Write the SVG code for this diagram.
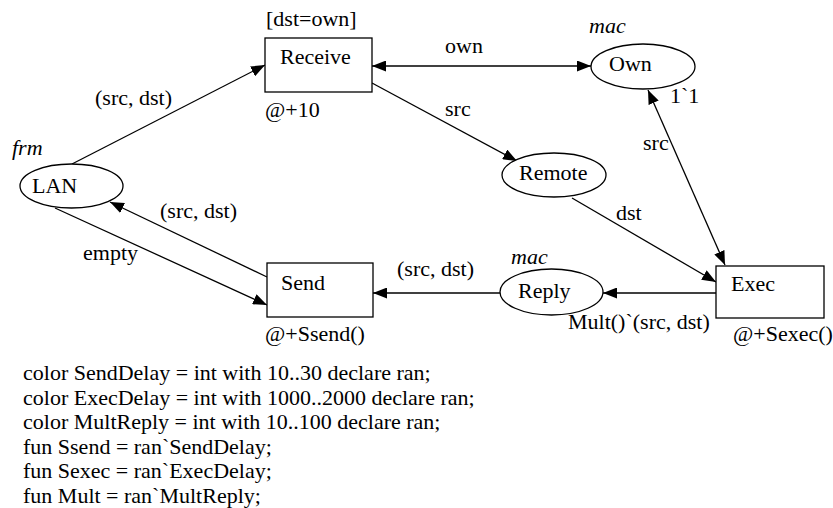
<svg xmlns="http://www.w3.org/2000/svg" width="833" height="508" viewBox="0 0 833 508">
<style>
text{font-family:"Liberation Serif","Times New Roman",serif;font-size:22px;fill:#000}
.it{font-style:italic}
.shape{fill:#fff;stroke:#000;stroke-width:1.3}
.arc{fill:none;stroke:#000;stroke-width:1.3}
</style>
<defs>
<marker id="ah" viewBox="0 0 14 11" refX="14" refY="5.5" markerWidth="14" markerHeight="11" markerUnits="userSpaceOnUse" orient="auto-start-reverse">
<path d="M0,0 L14,5.5 L0,11 z" fill="#000"/>
</marker>
</defs>
<rect width="833" height="508" fill="#fff"/>
<g id="connectors">
<line class="arc" x1="72" y1="164" x2="265" y2="65" marker-end="url(#ah)"/>
<text x="95" y="105">(src, dst)</text>
<line class="arc" x1="372" y1="66" x2="591" y2="66" marker-start="url(#ah)" marker-end="url(#ah)"/>
<text x="445" y="53">own</text>
<line class="arc" x1="372" y1="83" x2="517" y2="161" marker-end="url(#ah)"/>
<text x="445" y="116">src</text>
<line class="arc" x1="648" y1="90" x2="725" y2="265" marker-start="url(#ah)" marker-end="url(#ah)"/>
<text x="670" y="103">1`1</text>
<text x="643" y="150">src</text>
<line class="arc" x1="572" y1="198" x2="716" y2="282" marker-end="url(#ah)"/>
<text x="616" y="220">dst</text>
<line class="arc" x1="716" y1="293" x2="603" y2="293" marker-end="url(#ah)"/>
<text x="568" y="329">Mult()`(src, dst)</text>
<line class="arc" x1="500" y1="293" x2="373" y2="293" marker-end="url(#ah)"/>
<text x="397" y="276">(src, dst)</text>
<line class="arc" x1="267" y1="277" x2="110" y2="202" marker-end="url(#ah)"/>
<text x="160" y="218">(src, dst)</text>
<line class="arc" x1="55" y1="208" x2="267" y2="305" marker-end="url(#ah)"/>
<text x="83" y="260">empty</text>
</g>
<g id="Receive">
<rect class="shape" x="265" y="38" width="107" height="54"/>
<text x="280" y="64">Receive</text>
<text x="266" y="26">[dst=own]</text>
<text x="265" y="117">@+10</text>
</g>
<g id="LAN">
<ellipse class="shape" cx="71.5" cy="186" rx="51.5" ry="22"/>
<text x="32" y="193">LAN</text>
<text class="it" x="12" y="155">frm</text>
</g>
<g id="Own">
<ellipse class="shape" cx="643" cy="66.5" rx="52" ry="22.5"/>
<text x="609" y="71">Own</text>
<text class="it" x="589" y="33">mac</text>
</g>
<g id="Remote">
<ellipse class="shape" cx="554" cy="175" rx="52" ry="22"/>
<text x="519" y="180">Remote</text>
</g>
<g id="Exec">
<rect class="shape" x="716" y="266" width="108" height="52"/>
<text x="731" y="291">Exec</text>
<text x="733" y="341">@+Sexec()</text>
</g>
<g id="Reply">
<ellipse class="shape" cx="551.5" cy="292" rx="51.5" ry="23"/>
<text x="518" y="298">Reply</text>
<text class="it" x="511" y="264">mac</text>
</g>
<g id="Send">
<rect class="shape" x="267" y="263" width="106" height="54"/>
<text x="281" y="290">Send</text>
<text x="265" y="341">@+Ssend()</text>
</g>
<g id="declarations">
<text x="23" y="380">color SendDelay = int with 10..30 declare ran;</text>
<text x="23" y="404.5">color ExecDelay = int with 1000..2000 declare ran;</text>
<text x="23" y="429">color MultReply = int with 10..100 declare ran;</text>
<text x="23" y="453.5">fun Ssend = ran`SendDelay;</text>
<text x="23" y="478">fun Sexec = ran`ExecDelay;</text>
<text x="23" y="502.5">fun Mult = ran`MultReply;</text>
</g>
</svg>
